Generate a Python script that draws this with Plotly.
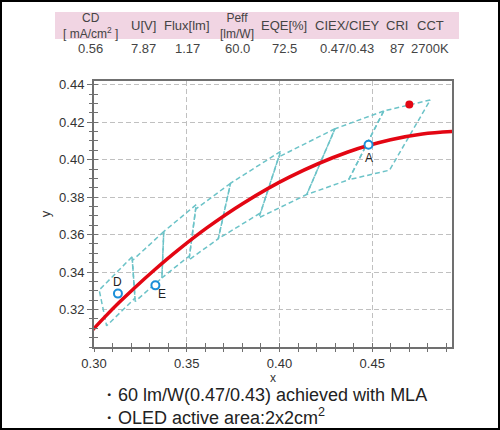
import plotly.graph_objects as go

# ---------------- data ----------------
header_labels = ["CD<br>[ mA/cm<sup>2</sup> ]", "U[V]", "Flux[lm]", "Peff<br>[lm/W]",
                 "EQE[%]", "CIEX/CIEY", "CRI", "CCT"]
header_values = ["0.56", "7.87", "1.17", "60.0", "72.5", "0.47/0.43", "87", "2700K"]

# black-body (Planckian) locus
locus_x = [0.2952, 0.3064, 0.3135, 0.3221, 0.3324, 0.3451, 0.3608, 0.3805, 0.4053,
           0.4369, 0.4599, 0.4770, 0.4963]
locus_y = [0.3048, 0.3166, 0.3237, 0.3318, 0.3410, 0.3516, 0.3636, 0.3768, 0.3907,
           0.4041, 0.4106, 0.4137, 0.4152]

# ANSI quadrangles (corner lists)
quad_names = ["6500K", "5700K", "5000K", "4500K", "4000K", "3500K", "3000K", "2700K"]
quad_x = [
    [0.3205, 0.3028, 0.3068, 0.3221],
    [0.3376, 0.3207, 0.3222, 0.3366],
    [0.3551, 0.3376, 0.3366, 0.3515],
    [0.3736, 0.3548, 0.3512, 0.3670],
    [0.4006, 0.3736, 0.3670, 0.3898],
    [0.4299, 0.3996, 0.3889, 0.4147],
    [0.4562, 0.4299, 0.4147, 0.4373],
    [0.4813, 0.4562, 0.4373, 0.4593],
]
quad_y = [
    [0.3481, 0.3304, 0.3113, 0.3261],
    [0.3616, 0.3462, 0.3243, 0.3369],
    [0.3760, 0.3616, 0.3369, 0.3487],
    [0.3874, 0.3736, 0.3465, 0.3578],
    [0.4044, 0.3874, 0.3578, 0.3716],
    [0.4165, 0.4015, 0.3690, 0.3814],
    [0.4260, 0.4165, 0.3814, 0.3893],
    [0.4319, 0.4260, 0.3893, 0.3944],
]

sample_labels = ["D", "E", "A"]
sample_x = [0.3129, 0.3331, 0.4480]
sample_y = [0.3285, 0.3329, 0.4080]

result_x = [0.470]
result_y = [0.4294]

notes = ["・60 lm/W(0.47/0.43) achieved with MLA", "・OLED active area:2x2cm<sup>2</sup>"]

# ---------------- layout geometry ----------------
W, H = 500, 430
ML, MR, MT, MB = 94, 48, 81, 83
PW, PH = W - ML - MR, H - MT - MB
XR = [0.30, 0.493]
YR = [0.30, 0.442]


def px(x):
    return (x - ML) / PW


def py(y):
    return (H - MB - y) / PH


fig = go.Figure()

teal = "#6cc3c8"
for qx, qy in zip(quad_x, quad_y):
    fig.add_trace(go.Scatter(x=qx + [qx[0]], y=qy + [qy[0]], mode="lines",
                             line=dict(color=teal, width=1.5, dash="5px,3px"),
                             hoverinfo="skip", showlegend=False))

fig.add_trace(go.Scatter(x=locus_x, y=locus_y, mode="lines",
                         line=dict(color="#e30613", width=3.5, shape="spline"),
                         showlegend=False))

fig.add_trace(go.Scatter(x=sample_x, y=sample_y, mode="markers",
                         marker=dict(symbol="circle", size=8, color="white",
                                     line=dict(color="#1c8fd8", width=2)),
                         showlegend=False))
fig.add_trace(go.Scatter(x=result_x, y=result_y, mode="markers",
                         marker=dict(symbol="circle", size=8, color="#e30613"),
                         showlegend=False))

# invisible trace for overlay axes (crossing ticks)
fig.add_trace(go.Scatter(x=[XR[0]], y=[YR[0]], xaxis="x2", yaxis="y2", mode="markers",
                         marker=dict(opacity=0), hoverinfo="skip", showlegend=False))

axis_color = "#707070"
tick_font = dict(family="Liberation Sans, Arial", size=13, color="#333333")

fig.update_layout(
    width=W, height=H,
    margin=dict(l=ML, r=MR, t=MT, b=MB, pad=0),
    paper_bgcolor="white", plot_bgcolor="white",
    font=dict(family="Liberation Sans, Arial", color="#333333"),
    xaxis=dict(range=XR, tickvals=[0.30, 0.35, 0.40, 0.45],
               ticktext=["0.30", "0.35", "0.40", "0.45"],
               ticks="outside", ticklen=3, tickcolor=axis_color, tickwidth=1,
               minor=dict(tickvals=[round(0.30 + 0.01 * i, 2) for i in range(20)],
                          ticks="outside", ticklen=3, tickcolor=axis_color,
                          showgrid=False),
               showgrid=True, gridcolor="#c0c0c0", griddash="5px,3px", gridwidth=1,
               showline=True, linecolor=axis_color, linewidth=2, mirror=True,
               zeroline=False, tickfont=tick_font,
               title=dict(text="x", font=dict(size=12, color="#333"), standoff=0)),
    yaxis=dict(range=YR, tickvals=[0.32, 0.34, 0.36, 0.38, 0.40, 0.42, 0.44],
               ticktext=["0.32", "0.34", "0.36", "0.38", "0.40", "0.42", "0.44"],
               ticks="outside", ticklen=5, tickcolor=axis_color, tickwidth=1,
               minor=dict(tickvals=[round(0.30 + 0.005 * i, 3) for i in range(29)],
                          ticks="outside", ticklen=3, tickcolor=axis_color,
                          showgrid=False),
               showgrid=True, gridcolor="#c0c0c0", griddash="5px,3px", gridwidth=1,
               showline=True, linecolor=axis_color, linewidth=2, mirror=True,
               zeroline=False, tickfont=tick_font,
               title=dict(text="y", font=dict(size=13, color="#333"), standoff=6)),
    xaxis2=dict(overlaying="x", matches="x", anchor="y2", side="bottom",
                tickvals=[round(0.30 + 0.01 * i, 2) for i in range(20)],
                ticks="inside", ticklen=4, tickcolor=axis_color,
                showticklabels=False, showgrid=False, showline=False, zeroline=False),
    yaxis2=dict(overlaying="y", matches="y", anchor="x2", side="left",
                tickvals=[round(0.30 + 0.005 * i, 3) for i in range(29)],
                ticks="inside", ticklen=4, tickcolor=axis_color,
                showticklabels=False, showgrid=False, showline=False, zeroline=False),
)

shapes = []
# outer frame
shapes.append(dict(type="rect", xref="paper", yref="paper",
                   x0=px(1), x1=px(499), y0=py(429), y1=py(1),
                   line=dict(color="black", width=2), fillcolor="rgba(0,0,0,0)", layer="above"))
# pink header band
shapes.append(dict(type="rect", xref="paper", yref="paper",
                   x0=px(55), x1=px(459), y0=py(39), y1=py(12),
                   line=dict(width=0), fillcolor="#f1d5e3", layer="below"))
fig.update_layout(shapes=shapes)

annotations = []
header_x = [90, 143, 187, 237, 284, 347, 397, 430]
hdr_font = dict(family="Liberation Sans, Arial", size=13, color="#444444")
for lbl, val, hx in zip(header_labels, header_values, header_x):
    two_line = "<br>" in lbl
    annotations.append(dict(xref="paper", yref="paper", x=px(hx), y=py(26),
                            text=lbl, showarrow=False, xanchor="center", yanchor="middle",
                            font=dict(family="Liberation Sans, Arial",
                                      size=12 if two_line else 13, color="#444444"),
                            align="center"))
    annotations.append(dict(xref="paper", yref="paper", x=px(hx), y=py(48),
                            text=val, showarrow=False, xanchor="center", yanchor="middle",
                            font=hdr_font))

# point labels
lbl_off = {"D": (0, -12), "E": (7, 9), "A": (0, 13)}
for name, sx, sy in zip(sample_labels, sample_x, sample_y):
    dx, dy = lbl_off[name]
    annotations.append(dict(x=sx, y=sy, xref="x", yref="y", text=name, showarrow=False,
                            xshift=dx, yshift=-dy,
                            font=dict(family="Liberation Sans, Arial", size=12, color="#222")))

# notes
for i, t in enumerate(notes):
    annotations.append(dict(xref="paper", yref="paper", x=px(98), y=py(395 + 21 * i),
                            text=t, showarrow=False, xanchor="left", yanchor="middle",
                            font=dict(family="Liberation Sans, Arial", size=18, color="#222")))

fig.update_layout(annotations=annotations)

fig.write_html("out.html", config={"displayModeBar": False},
               post_script="document.body.style.margin='0';document.body.style.padding='0';")
